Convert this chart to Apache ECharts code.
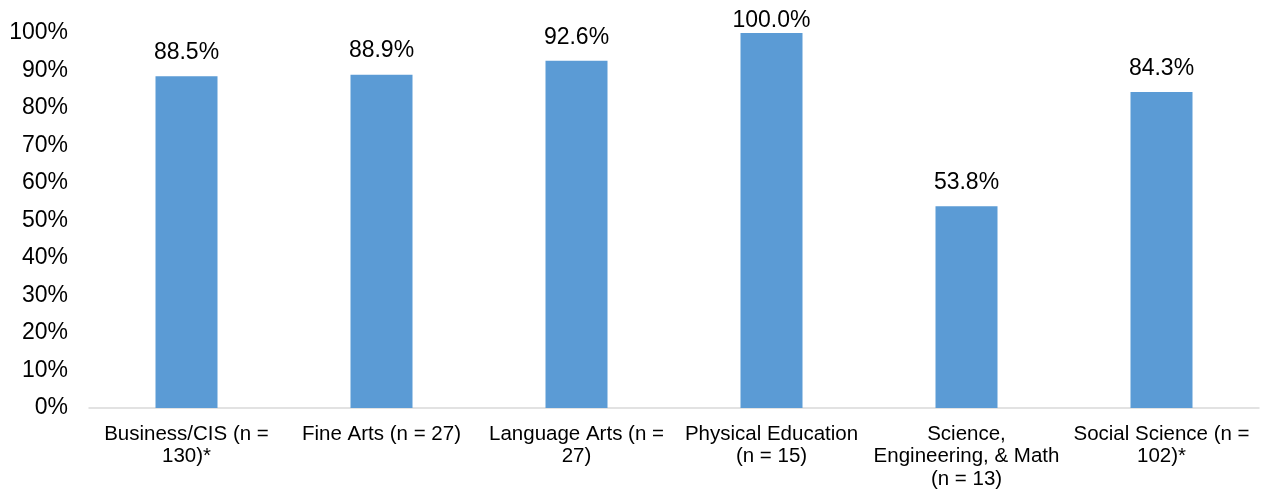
<!DOCTYPE html>
<html><head><meta charset="utf-8">
<script src="https://cdn.jsdelivr.net/npm/echarts@6/dist/echarts.min.js"></script>
<style>html,body{margin:0;padding:0;background:#fff}#c{width:1261px;height:491px}</style>
</head><body><div id="c"></div>
<script>
const categories = [
  "Business/CIS (n =\n130)*",
  "Fine Arts (n = 27)",
  "Language Arts (n =\n27)",
  "Physical Education\n(n = 15)",
  "Science,\nEngineering, & Math\n(n = 13)",
  "Social Science (n =\n102)*"
];
const values = [0.885, 0.889, 0.926, 1.000, 0.538, 0.843];
const yTicks = [0, 0.1, 0.2, 0.3, 0.4, 0.5, 0.6, 0.7, 0.8, 0.9, 1.0];

const chart = echarts.init(document.getElementById('c'), null, {renderer: 'canvas'});
chart.setOption({
  animation: false,
  textStyle: {fontFamily: 'Liberation Sans, Arial, sans-serif'},
  grid: {left: 89, right: 2, top: 33, bottom: 83, containLabel: false},
  xAxis: {
    type: 'category', data: categories,
    axisLine: {lineStyle: {color: '#d9d9d9', width: 1.5}},
    axisTick: {show: false},
    axisLabel: {color: '#000', fontSize: 20.5, lineHeight: 22.5, margin: 15, interval: 0,
      fontFamily: 'Liberation Sans, Arial, sans-serif'}
  },
  yAxis: {
    type: 'value', min: 0, max: 1, interval: 0.1,
    axisLine: {show: false}, axisTick: {show: false}, splitLine: {show: false},
    axisLabel: {color: '#000', fontSize: 23, margin: 21, padding: [4, 0, 0, 0],
      fontFamily: 'Liberation Sans, Arial, sans-serif',
      formatter: v => Math.round(v * 100) + '%'}
  },
  series: [{
    type: 'bar', barWidth: 62,
    data: values.map(v => v >= 1 ? {value: v, label: {distance: 1}} : v),
    itemStyle: {color: '#5b9bd5'},
    label: {show: true, position: 'top', distance: 12, color: '#000', fontSize: 23,
      fontFamily: 'Liberation Sans, Arial, sans-serif',
      formatter: p => (p.value * 100).toFixed(1) + '%'}
  }]
});
</script></body></html>
